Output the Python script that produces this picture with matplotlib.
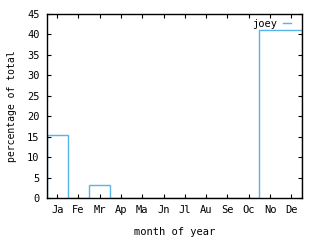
import matplotlib
matplotlib.use("Agg")
import matplotlib.pyplot as plt
from matplotlib.lines import Line2D
import numpy as np

months = ["Ja", "Fe", "Mr", "Ap", "Ma", "Jn", "Jl", "Au", "Se", "Oc", "No", "De"]
percent = [15.3, 0, 3.1, 0, 0, 0, 0, 0, 0, 0, 41.0, 41.0]
series_name = "joey"
yticks = [0, 5, 10, 15, 20, 25, 30, 35, 40, 45]

color = "#56b4e9"
plt.rcParams['font.family'] = ['DejaVu Sans Mono']
fs = 7.5

fig = plt.figure(figsize=(3.2, 2.4), dpi=100)
ax = fig.add_axes([46.5/320, 1-198/240, (302-46.5)/320, (198-14)/240])

x = np.arange(1, len(months) + 1)
edges = np.concatenate([x - 0.5, [x[-1] + 0.5]])
ax.stairs(percent, edges, color=color, linewidth=1.0, baseline=0)

ax.set_xlim(0.5, 12.5)
ax.set_ylim(0, 45)
ax.set_xticks(x)
ax.set_xticklabels(months, fontsize=fs)
ax.set_yticks(yticks)
ax.set_yticklabels([str(t) for t in yticks], fontsize=fs)
ax.tick_params(direction='in', length=3, width=0.8, top=True, right=True, pad=5)
for s in ax.spines.values():
    s.set_linewidth(1.0)
    s.set_zorder(5)
ax.set_xlabel("month of year", fontsize=fs, labelpad=9)
ax.set_ylabel("percentage of total", fontsize=7, labelpad=7)

handle = Line2D([], [], color=color, linewidth=1.0)
leg = ax.legend([handle], [series_name], loc='upper right', bbox_to_anchor=(0.975, 1.0),
                frameon=False, fontsize=fs, markerfirst=False, handlelength=0.75,
                borderaxespad=0.0, handletextpad=0.6, borderpad=0.45)

fig.savefig("out.png", dpi=100)
